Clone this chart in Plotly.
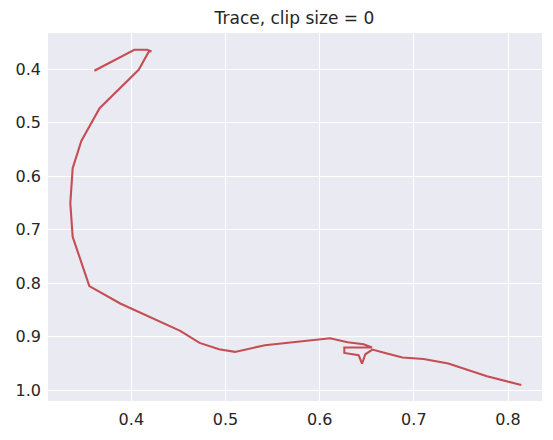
import plotly.graph_objects as go

# trace path (x position, y position)
trace_x = [
    0.3607, 0.4032, 0.4167, 0.4212, 0.4185, 0.4078, 0.3663, 0.3469, 0.3377,
    0.3352, 0.3377, 0.3554, 0.3882, 0.4519, 0.4725, 0.4931, 0.5100, 0.5419,
    0.6111, 0.6298, 0.6467, 0.6556, 0.6262, 0.6262, 0.6414, 0.6450, 0.6485,
    0.6531, 0.6560, 0.6715, 0.6879, 0.7104, 0.7366, 0.7777, 0.7990, 0.8131,
    0.8141,
]
trace_y = [
    0.4032, 0.3640, 0.3640, 0.3665, 0.3675, 0.4013, 0.4730, 0.5341, 0.5852,
    0.6507, 0.7132, 0.8054, 0.8378, 0.8890, 0.9115, 0.9233, 0.9283, 0.9158,
    0.9027, 0.9102, 0.9140, 0.9200, 0.9201, 0.9302, 0.9345, 0.9500, 0.9327,
    0.9265, 0.9240, 0.9313, 0.9388, 0.9414, 0.9500, 0.9738, 0.9832, 0.9888,
    0.9900,
]
x_ticks = [0.4, 0.5, 0.6, 0.7, 0.8]
y_ticks = [0.4, 0.5, 0.6, 0.7, 0.8, 0.9, 1.0]

fig = go.Figure()
fig.add_trace(go.Scatter(
    x=trace_x, y=trace_y, mode="lines",
    line=dict(color="#C44E52", width=2.1),
    hoverinfo="skip", showlegend=False,
))

axis_common = dict(
    showgrid=True, gridcolor="white", gridwidth=1.2, zeroline=False,
    showline=False, ticks="", tickformat=".1f", automargin=False,
    tickfont=dict(family="DejaVu Sans", size=16, color="#262626"),
)
fig.update_xaxes(range=[0.3115, 0.8361], tickvals=x_ticks,
                 ticklabelstandoff=7, **axis_common)
fig.update_yaxes(range=[1.020, 0.3326], tickvals=y_ticks,
                 ticklabelstandoff=6, **axis_common)

fig.update_layout(
    width=553, height=440,
    margin=dict(l=48, r=11, t=33, b=39),
    paper_bgcolor="white", plot_bgcolor="#EAEAF2",
    title=dict(text="Trace, clip size = 0", x=0.5325, xanchor="center",
               y=0.96, yanchor="middle",
               font=dict(family="DejaVu Sans", size=17, color="#262626")),
)

# drop the browser's default 8px body margin so the figure sits at the page corner
fig.write_html("out.html", config={"displayModeBar": False},
               post_script="document.body.style.margin='0';")
